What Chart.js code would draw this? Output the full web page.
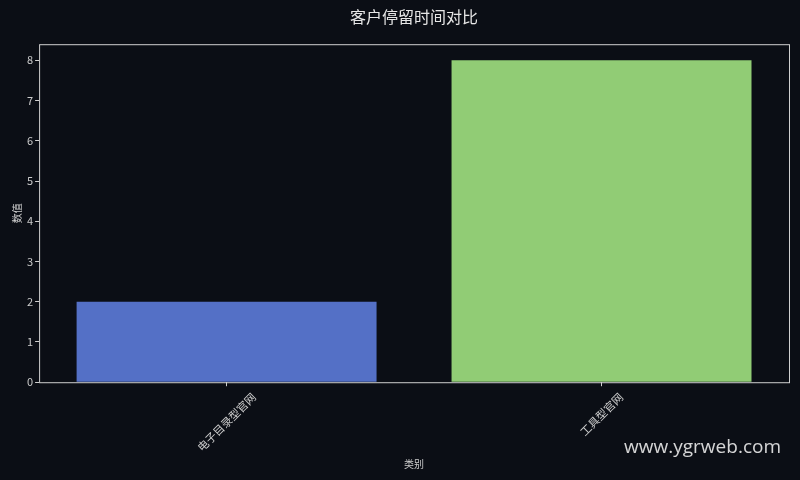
<!DOCTYPE html>
<html>
<head>
<meta charset="utf-8">
<script src="https://cdn.jsdelivr.net/npm/chart.js@4"></script>
<style>
  html, body { margin: 0; padding: 0; background: #0b0e15; }
  #wrap { width: 800px; height: 480px; position: relative; }
</style>
</head>
<body>
<div id="wrap"><canvas id="barChart"></canvas></div>
<script>
// data
const categories = ['电子目录型官网', '工具型官网'];
const values = [2, 8];
const barColors = ['#5470c6', '#91cc75'];
const yTicks = [0, 1, 2, 3, 4, 5, 6, 7, 8];

const FONT = '"Noto Sans CJK SC", "Noto Sans", sans-serif';

// box around the axes, centred rotated x labels and the watermark
const frameAndMark = {
    id: 'frameAndMark',
    beforeDraw(chart) {
        // shift each rotated label so it is centred under its tick
        const { ctx } = chart;
        const items = chart.scales.x.getLabelItems();
        items.forEach(it => {
            if (it._centred) return;
            ctx.save();
            ctx.font = it.font.string;
            const w = ctx.measureText(it.label).width;
            ctx.restore();
            it.options.translation[0] += w * Math.SQRT1_2 / 2;
            it._centred = true;
        });
    },
    afterDraw(chart) {
        const { ctx, chartArea: a } = chart;
        ctx.save();
        ctx.strokeStyle = '#d0d0d0';
        ctx.lineWidth = 1;
        ctx.strokeRect(a.left + 0.5, a.top + 0.5, a.right - a.left, a.bottom - a.top);
        ctx.fillStyle = 'rgba(235,235,235,0.9)';
        ctx.font = '19px "Open Sans", "Noto Sans", sans-serif';
        ctx.textAlign = 'right';
        ctx.textBaseline = 'middle';
        ctx.fillText('www.ygrweb.com', 781, 448);
        ctx.restore();
    }
};

new Chart(document.getElementById('barChart'), {
    type: 'bar',
    data: {
        labels: categories,
        datasets: [{
            data: values,
            backgroundColor: barColors,
            borderColor: barColors,
            borderWidth: 0,
            barPercentage: 0.8,
            categoryPercentage: 1.0
        }]
    },
    options: {
        responsive: true,
        maintainAspectRatio: false,
        animation: false,
        layout: { padding: { left: 11, right: 11, top: 0, bottom: 10 } },
        plugins: {
            legend: { display: false },
            tooltip: { enabled: false },
            title: {
                display: true,
                fullSize: false,
                text: '客户停留时间对比',
                color: '#e6e6e6',
                font: { family: FONT, size: 16, weight: 'normal' },
                padding: { top: 7, bottom: 18 }
            }
        },
        scales: {
            x: {
                offset: true,
                grid: { display: true, offset: false, drawOnChartArea: false, drawTicks: true, tickLength: 4, color: '#d0d0d0' },
                border: { display: false },
                ticks: {
                    color: '#cccccc',
                    font: { family: FONT, size: 11 },
                    maxRotation: 45,
                    minRotation: 45,
                    padding: 4
                },
                title: {
                    display: true,
                    text: '类别',
                    color: '#cccccc',
                    font: { family: FONT, size: 10 },
                    padding: { top: 0, bottom: 0 }
                }
            },
            y: {
                min: 0,
                max: 8.4,
                afterBuildTicks(axis) {
                    axis.ticks = yTicks.map(v => ({ value: v }));
                },
                grid: { display: true, drawOnChartArea: false, drawTicks: true, tickLength: 4, color: '#d0d0d0' },
                border: { display: false },
                ticks: {
                    color: '#cccccc',
                    font: { family: FONT, size: 11 },
                    padding: 2
                },
                title: {
                    display: true,
                    text: '数值',
                    color: '#cccccc',
                    font: { family: FONT, size: 10 },
                    padding: { top: 0, bottom: 2 }
                }
            }
        }
    },
    plugins: [frameAndMark]
});
</script>
</body>
</html>
